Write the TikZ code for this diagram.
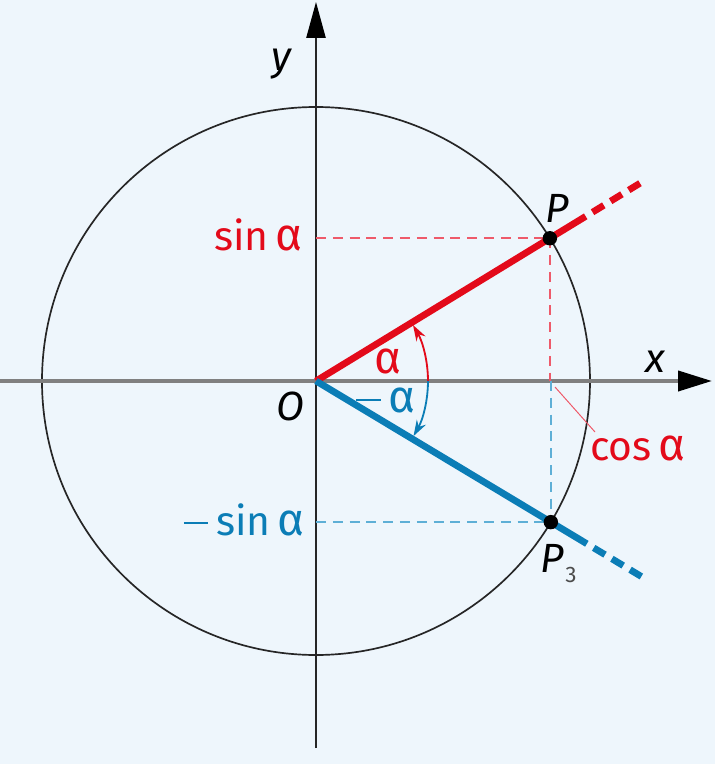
\documentclass[tikz,border=0pt]{standalone}
\usepackage{fontspec}
\setmainfont{Fira Sans}
\usepackage{graphicx}
\usepackage{tikz}
\usetikzlibrary{arrows.meta}
\usepackage{xcolor}
\definecolor{bgblue}{HTML}{EEF6FC}
\definecolor{sinred}{HTML}{E30A1A}
\definecolor{palered}{HTML}{EE5A6A}
\definecolor{negblue}{HTML}{0B7DB6}
\definecolor{paleblue}{HTML}{5EAFD6}
\definecolor{axisgray}{HTML}{808080}
\newcommand{\alp}{\scalebox{1.12}{α}}
\newcommand{\mns}{\rule[0.26em]{0.6em}{1.5pt}\kern0.2em}

\begin{document}
\begin{tikzpicture}[font=\fontsize{29}{34}\selectfont,
		lbl/.style={inner sep=0pt, anchor=base},
		helper/.style={line width=1.2pt, dash pattern=on 0.25cm off 0.17cm},
		ray/.style={line width=4.8pt},
		raydash/.style={line width=4.8pt, dash pattern=on 0.33cm off 0.2cm},
		dot/.style={circle, fill=black, inner sep=0pt, minimum size=0.36cm}]
\fill[bgblue] (-7.9,-9.575) rectangle (9.975,9.525);
			\useasboundingbox (-7.9,-9.575) rectangle (9.975,9.525);
			
			\coordinate (O) at (0,0);
			\coordinate (xl) at (-7.9,0);
			\coordinate (xr) at (9.9,0);
			\coordinate (yb) at (0,-9.175);
			\coordinate (yt) at (0,9.475);
			\coordinate (P) at (31.4:6.85);
			\coordinate (P3) at (-31:6.85);
			
\draw[line width=1.2pt, black!85] (O) circle (6.85);
			\draw[black!85, line width=1.3pt, -{Triangle[length=0.9cm,width=0.48cm,black]}] (yb) -- (yt);
			\draw[axisgray, line width=2.8pt, -{Triangle[length=0.85cm,width=0.5cm,black]}] (xl) -- (xr);
			
\draw[helper, palered] (O |- P) -- (P);
			\draw[helper, palered] (P) -- (P |- O);
			\draw[helper, paleblue] (O |- P3) -- (P3);
			\draw[helper, paleblue] (P3 |- O) -- (P3);
			
			\foreach \ang/\col/\nm in {31.4/sinred/P, -31/negblue/P3} {
\coordinate (\nm sol) at (\ang:7.9);
\coordinate (\nm gap) at (\ang:8.1);
\coordinate (\nm end) at (\ang:9.49);
\draw[ray, \col] (O) -- (\nm sol);
\draw[raydash, \col] (\nm gap) -- (\nm end);
\node[dot] (\nm dot) at (\nm) {};
			}
			
\draw[sinred, line width=1.3pt, -{Stealth[length=0.4cm,width=0.26cm]}] (2.8,0) arc[start angle=0, end angle=30, radius=2.8];
			\draw[negblue, line width=1.3pt, -{Stealth[length=0.4cm,width=0.26cm]}] (2.8,0) arc[start angle=0, end angle=-29.5, radius=2.8];
			
			\coordinate (cosfoot) at (5.975,-0.15);
			\coordinate (coslead) at (6.975,-1.275);
			\draw[palered, line width=0.7pt] (cosfoot) -- (coslead);
			
			\node[lbl, sinred, anchor=base east] (sinlbl) at (-0.325,3.275) {sin\,\alp};
			\node[lbl, negblue, anchor=base east] (msinlbl) at (-0.275,-3.85) {\mns sin\,\alp};
			\node[lbl, sinred, anchor=base west] (coslbl) at (6.85,-1.975) {cos\,\alp};
			\node[lbl, sinred] (alpha) at (1.8,0.2) {\alp};
			\node[lbl, negblue] (malpha) at (1.75,-0.775) {\mns\alp};
			\node[lbl] (Olbl) at (-0.65,-0.975) {\textit{O}};
			\node[lbl, anchor=base west] (Plbl) at (5.725,3.975) {\textit{P}};
			\node[lbl, anchor=base west] (P3lbl) at (5.6,-4.775) {\textit{P}\kern0.04em\raisebox{-7.8pt}{\fontsize{16}{18}\selectfont\color{black!70}3}};
			\node[lbl] (xlbl) at (8.5,0.225) {\textit{x}};
			\node[lbl] (ylbl) at (-0.84,7.775) {\textit{y}};
		\end{tikzpicture}
\end{document}
